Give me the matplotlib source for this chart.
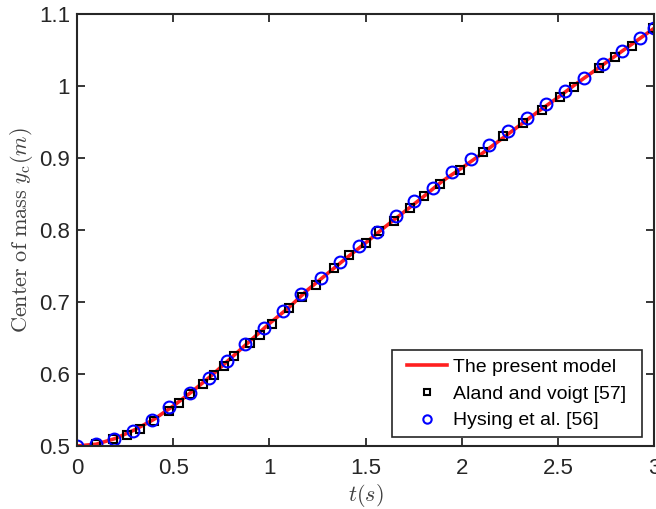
import matplotlib
matplotlib.use("Agg")
import matplotlib.pyplot as plt
from matplotlib.patches import Rectangle
from matplotlib.transforms import IdentityTransform

# Present model (red line)
t_model = [0.0, 0.1, 0.2, 0.3, 0.4, 0.5, 0.6, 0.7, 0.8, 0.9, 1.0, 1.1, 1.2, 1.3, 1.4, 1.5,
           1.6, 1.7, 1.8, 1.9, 2.0, 2.1, 2.2, 2.3, 2.4, 2.5, 2.6, 2.7, 2.8, 2.9, 3.0]
y_model = [0.500, 0.5025, 0.5105, 0.5225, 0.537, 0.5555, 0.576, 0.598, 0.622, 0.646, 0.670,
           0.692, 0.717, 0.739, 0.761, 0.782, 0.804, 0.825, 0.846, 0.868, 0.886, 0.905,
           0.925, 0.945, 0.965, 0.984, 1.004, 1.023, 1.042, 1.061, 1.080]

# Aland and Voigt [57] (black squares)
t_aland = [0.10, 0.189, 0.259, 0.325, 0.398, 0.476, 0.528, 0.589, 0.655, 0.710, 0.762, 0.816,
           0.901, 0.950, 1.014, 1.100, 1.170, 1.240, 1.335, 1.415, 1.500, 1.569, 1.648, 1.730,
           1.804, 1.887, 1.991, 2.113, 2.217, 2.321, 2.416, 2.511, 2.582, 2.715, 2.795, 2.883,
           2.993]
y_aland = [0.503, 0.510, 0.515, 0.524, 0.535, 0.548, 0.560, 0.572, 0.586, 0.599, 0.611, 0.625,
           0.643, 0.654, 0.670, 0.691, 0.707, 0.723, 0.747, 0.765, 0.782, 0.799, 0.813, 0.830,
           0.847, 0.864, 0.884, 0.909, 0.931, 0.949, 0.967, 0.985, 0.999, 1.025, 1.040, 1.056,
           1.080]

# Hysing et al. [56] (blue circles)
t_hysing = [0.0, 0.10, 0.19, 0.29, 0.39, 0.48, 0.585, 0.684, 0.78, 0.875, 0.97, 1.07, 1.167,
            1.266, 1.366, 1.465, 1.56, 1.656, 1.752, 1.853, 1.951, 2.047, 2.142, 2.24, 2.341,
            2.437, 2.536, 2.634, 2.733, 2.832, 2.929, 3.0]
y_hysing = [0.500, 0.503, 0.510, 0.521, 0.536, 0.554, 0.573, 0.595, 0.618, 0.641, 0.664, 0.688,
            0.711, 0.733, 0.755, 0.778, 0.797, 0.819, 0.840, 0.859, 0.880, 0.899, 0.918, 0.937,
            0.955, 0.975, 0.993, 1.011, 1.030, 1.049, 1.067, 1.081]

x_ticks = [0, 0.5, 1, 1.5, 2, 2.5, 3]
x_ticklabels = ["0", "0.5", "1", "1.5", "2", "2.5", "3"]
y_ticks = [0.5, 0.6, 0.7, 0.8, 0.9, 1.0, 1.1]
y_ticklabels = ["0.5", "0.6", "0.7", "0.8", "0.9", "1", "1.1"]

plt.rcParams["font.family"] = ["Liberation Sans", "DejaVu Sans"]
plt.rcParams["mathtext.fontset"] = "cm"

fig = plt.figure(figsize=(6.56, 5.09), dpi=100)
ax = fig.add_axes([0.1174, 0.1238, 0.8796, 0.8487])

ax.plot(t_model, y_model, color="#ff2020", lw=2.6, label="The present model", zorder=2)
ax.plot(t_aland, y_aland, ls="none", marker="s", ms=5.8, mfc="none", mec="black", mew=1.5,
        label="Aland and voigt [57]", zorder=3)
ax.plot(t_hysing, y_hysing, ls="none", marker="o", ms=8.5, mfc="none", mec="#0000ff", mew=1.5,
        label="Hysing et al. [56]", zorder=4)

ax.set_xlim(0, 3)
ax.set_ylim(0.5, 1.1)
ax.set_xticks(x_ticks)
ax.set_xticklabels(x_ticklabels)
ax.set_yticks(y_ticks)
ax.set_yticklabels(y_ticklabels)
ax.tick_params(direction="in", top=True, right=True, length=6, width=1.3,
               color="#262626", labelsize=16, labelcolor="#262626")
ax.tick_params(axis="x", pad=9)
ax.tick_params(axis="y", pad=5)
for s in ax.spines.values():
    s.set_linewidth(1.5)
    s.set_color("#262626")
    s.set_zorder(5)

ax.set_xlabel(r"$t(s)$", fontsize=16, color="#404040", labelpad=2)
ax.set_ylabel(r"$\mathrm{Center\ of\ mass}\ y_{\mathrm{c}}(m)$", fontsize=16, color="#404040",
              labelpad=3)

leg = ax.legend(loc="lower right", bbox_to_anchor=(0.981, 0.0), fontsize=14, frameon=True,
                fancybox=False, borderpad=0.4, labelspacing=0.48, handlelength=2.05,
                handletextpad=0.35, borderaxespad=0.45)
leg.set_zorder(10)
hl = leg.legend_handles
hl[1].set_markersize(4.5)
hl[2].set_markersize(6)
for txt in leg.get_texts():
    txt.set_color("black")

fig.canvas.draw()
# draw a wider frame behind the legend to match the reference box
bb = leg.get_window_extent()
ext_left, ext_right = 7, 8
leg.set_frame_on(False)
box = Rectangle((bb.x0 - ext_left, bb.y0), bb.width + ext_left + ext_right, bb.height,
                transform=IdentityTransform(), facecolor="white", edgecolor="#262626",
                linewidth=1.2, zorder=9, clip_on=False)
ax.add_patch(box)

fig.savefig("out.png", dpi=100)
